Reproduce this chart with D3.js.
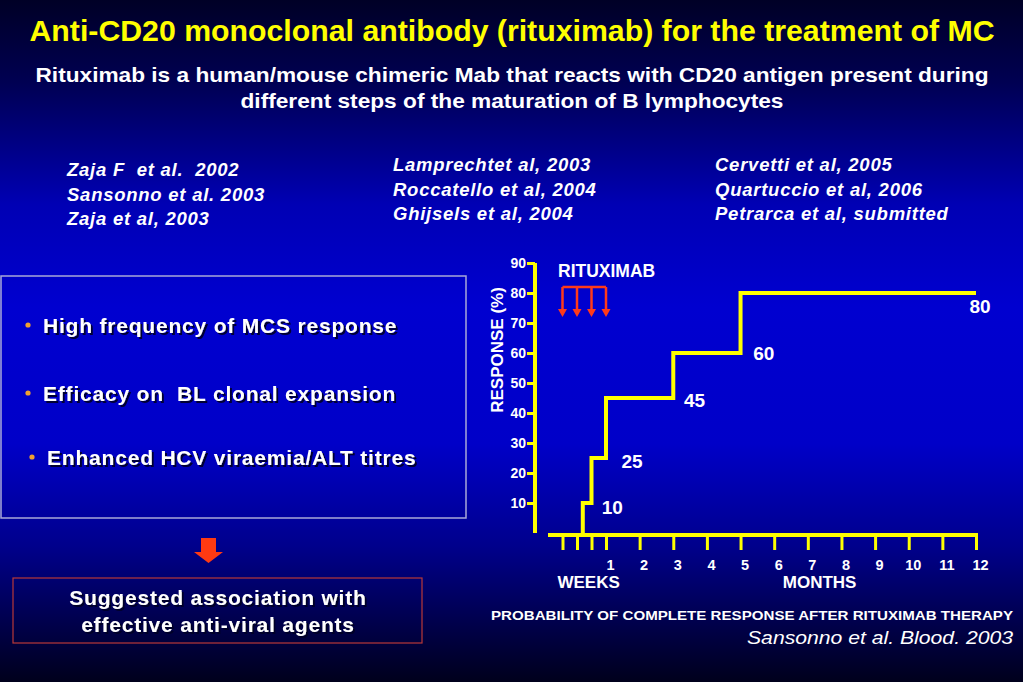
<!DOCTYPE html>
<html>
<head>
<meta charset="utf-8">
<script src="https://cdn.jsdelivr.net/npm/d3@7"></script>
<style>
  html, body { margin: 0; padding: 0; background: #000030; }
  svg { display: block; font-family: "Liberation Sans", Arial, sans-serif; }
  svg text { white-space: pre; }
</style>
</head>
<body>
<div id="chart"></div>
<script>
// data
const responseTicks = [10, 20, 30, 40, 50, 60, 70, 80, 90];
const weekTicks = [1, 2, 3];                 // weeks within the first month
const monthTicks = [1, 2, 3, 4, 5, 6, 7, 8, 9, 10, 11, 12];
const doseWeeks = [1, 2, 3, 4];              // rituximab infusions
const stepMonths = [0.6, 0.75, 1, 3, 5];     // time of each response step
const stepValues = [10, 25, 45, 60, 80];     // % complete response
const followUpEnd = 12;

const references = [
  ['Zaja F  et al.  2002', 'Sansonno et al. 2003', 'Zaja et al, 2003'],
  ['Lamprechtet al, 2003', 'Roccatello et al, 2004', 'Ghijsels et al, 2004'],
  ['Cervetti et al, 2005', 'Quartuccio et al, 2006', 'Petrarca et al, submitted']
];
const bullets = [
  'High frequency of MCS response',
  'Efficacy on  BL clonal expansion',
  'Enhanced HCV viraemia/ALT titres'
];

const W = 1023, H = 682;
const yellow = '#ffff00';
const narrow = '"Liberation Sans Narrow", "Liberation Sans", Arial, sans-serif';

const svg = d3.select('#chart').append('svg')
  .attr('width', W)
  .attr('height', H);

const defs = svg.append('defs');
const grad = defs.append('linearGradient')
  .attr('id', 'bg')
  .attr('x1', 0).attr('y1', 0).attr('x2', 0).attr('y2', 1);
[[0, '#000026'], [0.12, '#000052'], [0.3, '#0000b4'], [0.45, '#0000d0'],
 [0.65, '#0000c8'], [0.8, '#00008c'], [0.92, '#000048'], [1, '#00001c']]
  .forEach(([o, c]) => grad.append('stop').attr('offset', o).attr('stop-color', c));

defs.append('filter').attr('id', 'shadow')
  .append('feDropShadow')
  .attr('dx', 2).attr('dy', 2).attr('stdDeviation', 0.6)
  .attr('flood-color', '#000022').attr('flood-opacity', 0.9);

svg.append('rect').attr('width', W).attr('height', H).attr('fill', 'url(#bg)');

// titles
svg.append('text')
  .attr('x', 512).attr('y', 41)
  .attr('text-anchor', 'middle')
  .attr('fill', yellow)
  .attr('font-family', narrow)
  .attr('font-size', 30).attr('font-weight', 'bold')
  .attr('textLength', 965).attr('lengthAdjust', 'spacingAndGlyphs')
  .text('Anti-CD20 monoclonal antibody (rituximab) for the treatment of MC');

const sub = [
  ['Rituximab is a human/mouse chimeric Mab that reacts with CD20 antigen present during', 82, 953],
  ['different steps of the maturation of B lymphocytes', 108, 543]
];
svg.selectAll('.sub').data(sub).join('text')
  .attr('class', 'sub')
  .attr('x', 512).attr('y', d => d[1])
  .attr('text-anchor', 'middle')
  .attr('fill', 'white')
  .attr('font-family', narrow)
  .attr('font-size', 21).attr('font-weight', 'bold')
  .attr('textLength', d => d[2]).attr('lengthAdjust', 'spacingAndGlyphs')
  .text(d => d[0]);

// reference columns
const refX = [67, 393, 715];
const refY = [176, 171, 171];
references.forEach((col, i) => {
  svg.append('g')
    .selectAll('text').data(col).join('text')
    .attr('x', refX[i])
    .attr('y', (d, j) => refY[i] + j * 24.5)
    .attr('fill', 'white')
    .attr('font-size', 18.5).attr('font-weight', 'bold').attr('font-style', 'italic')
    .attr('letter-spacing', 0.75)
    .text(d => d);
});

// left box with bullet points
svg.append('rect')
  .attr('x', 1).attr('y', 276).attr('width', 465).attr('height', 242)
  .attr('fill', 'none').attr('stroke', '#a8a8d8').attr('stroke-width', 1.5);

const bulletY = [325, 393, 457];
const bulletX = [28, 28, 32];
const bl = svg.append('g').selectAll('g').data(bullets).join('g');
bl.append('circle')
  .attr('cx', (d, i) => bulletX[i]).attr('cy', (d, i) => bulletY[i])
  .attr('r', 2.6).attr('fill', '#f0a030');
bl.append('text')
  .attr('x', (d, i) => bulletX[i] + 15).attr('y', (d, i) => bulletY[i] + 7.5)
  .attr('fill', 'white')
  .attr('font-size', 21).attr('font-weight', 'bold')
  .attr('letter-spacing', 0.8)
  .attr('filter', 'url(#shadow)')
  .text(d => d);

// red arrow and suggestion box
svg.append('path')
  .attr('d', 'M201,538 H216 V552 H223 L208.5,563 L194,552 H201 Z')
  .attr('fill', '#ff3a12');

svg.append('rect')
  .attr('x', 13).attr('y', 578).attr('width', 409).attr('height', 65)
  .attr('fill', 'none').attr('stroke', '#b83838').attr('stroke-width', 1.2);

svg.selectAll('.sugg').data(['Suggested association with', 'effective anti-viral agents']).join('text')
  .attr('class', 'sugg')
  .attr('x', 218).attr('y', (d, i) => 605 + i * 27)
  .attr('text-anchor', 'middle')
  .attr('fill', 'white')
  .attr('font-size', 21).attr('font-weight', 'bold')
  .attr('letter-spacing', 0.8)
  .attr('filter', 'url(#shadow)')
  .text(d => d);

// ---- step chart ----
const x = d3.scaleLinear().domain([0, 1, followUpEnd]).range([548, 606, 976]);
const y = d3.scaleLinear().domain([0, 90]).range([533, 263]);

const yAxis = svg.append('g')
  .attr('transform', 'translate(535,0)')
  .call(d3.axisLeft(y).tickValues(responseTicks).tickSize(8).tickSizeOuter(0).tickPadding(1));
yAxis.select('.domain').attr('stroke', yellow).attr('stroke-width', 4).attr('d', `M0,${y(90)}V${y(0)}`);
yAxis.selectAll('.tick line').attr('stroke', yellow).attr('stroke-width', 3);
yAxis.selectAll('.tick text')
  .attr('fill', 'white').attr('font-size', 14).attr('font-weight', 'bold')
  .attr('font-family', '"Liberation Sans", Arial, sans-serif');

svg.append('text')
  .attr('transform', 'translate(503,350) rotate(-90)')
  .attr('text-anchor', 'middle')
  .attr('fill', 'white')
  .attr('font-size', 17).attr('font-weight', 'bold')
  .text('RESPONSE (%)');

const xTickVals = weekTicks.map(w => w / 4).concat(monthTicks);
const xAxis = svg.append('g')
  .attr('transform', 'translate(0,535)')
  .call(d3.axisBottom(x).tickValues(xTickVals).tickSize(15).tickSizeOuter(0).tickPadding(10)
    .tickFormat(d => monthTicks.includes(d) ? d : ''));
xAxis.select('.domain').attr('stroke', yellow).attr('stroke-width', 4).attr('d', `M${x(0)},0H${x(followUpEnd) + 2}`);
xAxis.selectAll('.tick line').attr('stroke', yellow).attr('stroke-width', 3);
xAxis.selectAll('.tick text')
  .attr('dx', 4)
  .attr('fill', 'white').attr('font-size', 14.5).attr('font-weight', 'bold')
  .attr('font-family', '"Liberation Sans", Arial, sans-serif');

svg.append('text')
  .attr('x', x(0.7)).attr('y', 588)
  .attr('text-anchor', 'middle')
  .attr('fill', 'white').attr('font-size', 17).attr('font-weight', 'bold')
  .text('WEEKS');
svg.append('text')
  .attr('x', x(7.35)).attr('y', 588)
  .attr('text-anchor', 'middle')
  .attr('fill', 'white').attr('font-size', 17).attr('font-weight', 'bold')
  .text('MONTHS');

const stepData = [[stepMonths[0], 0]]
  .concat(stepMonths.map((t, i) => [t, stepValues[i]]))
  .concat([[followUpEnd, stepValues[stepValues.length - 1]]]);

svg.append('path')
  .datum(stepData)
  .attr('fill', 'none')
  .attr('stroke', yellow)
  .attr('stroke-width', 4)
  .attr('d', d3.line().x(d => x(d[0])).y(d => y(d[1])).curve(d3.curveStepAfter));

// label placement next to each riser
const labelDx = [19, 30, 78, 80, 229];
const labelDy = [4, 3, 2, 0, 13];
svg.append('g').selectAll('text').data(stepValues).join('text')
  .attr('x', (d, i) => x(stepMonths[i]) + labelDx[i])
  .attr('y', (d, i) => y(d) + labelDy[i] + 7)
  .attr('fill', 'white').attr('font-size', 19).attr('font-weight', 'bold')
  .text(d => d);

// rituximab doses
svg.append('text')
  .attr('x', 558).attr('y', 277)
  .attr('fill', 'white').attr('font-size', 17.5).attr('font-weight', 'bold')
  .text('RITUXIMAB');

const doseX = doseWeeks.map(w => x(w / 4));
const arrowTop = 287, arrowTip = 317;
svg.append('path')
  .attr('d', `M${doseX[0]},${arrowTop}H${doseX[doseX.length - 1]}`)
  .attr('stroke', '#ff3a1a').attr('stroke-width', 2.5).attr('fill', 'none');
const doses = svg.append('g').selectAll('g').data(doseX).join('g');
doses.append('line')
  .attr('x1', d => d).attr('x2', d => d)
  .attr('y1', arrowTop).attr('y2', arrowTip - 7)
  .attr('stroke', '#ff3a1a').attr('stroke-width', 2.5);
doses.append('path')
  .attr('d', d => `M${d - 4.5},${arrowTip - 8}L${d + 4.5},${arrowTip - 8}L${d},${arrowTip}Z`)
  .attr('fill', '#ff3a1a');

// footer
svg.append('text')
  .attr('x', 1013).attr('y', 620)
  .attr('text-anchor', 'end')
  .attr('fill', 'white').attr('font-size', 13).attr('font-weight', 'bold')
  .attr('textLength', 522).attr('lengthAdjust', 'spacingAndGlyphs')
  .text('PROBABILITY OF COMPLETE RESPONSE AFTER RITUXIMAB THERAPY');
svg.append('text')
  .attr('x', 1013).attr('y', 644)
  .attr('text-anchor', 'end')
  .attr('fill', 'white').attr('font-size', 19).attr('font-style', 'italic')
  .attr('textLength', 266).attr('lengthAdjust', 'spacingAndGlyphs')
  .text('Sansonno et al. Blood. 2003');
</script>
</body>
</html>
